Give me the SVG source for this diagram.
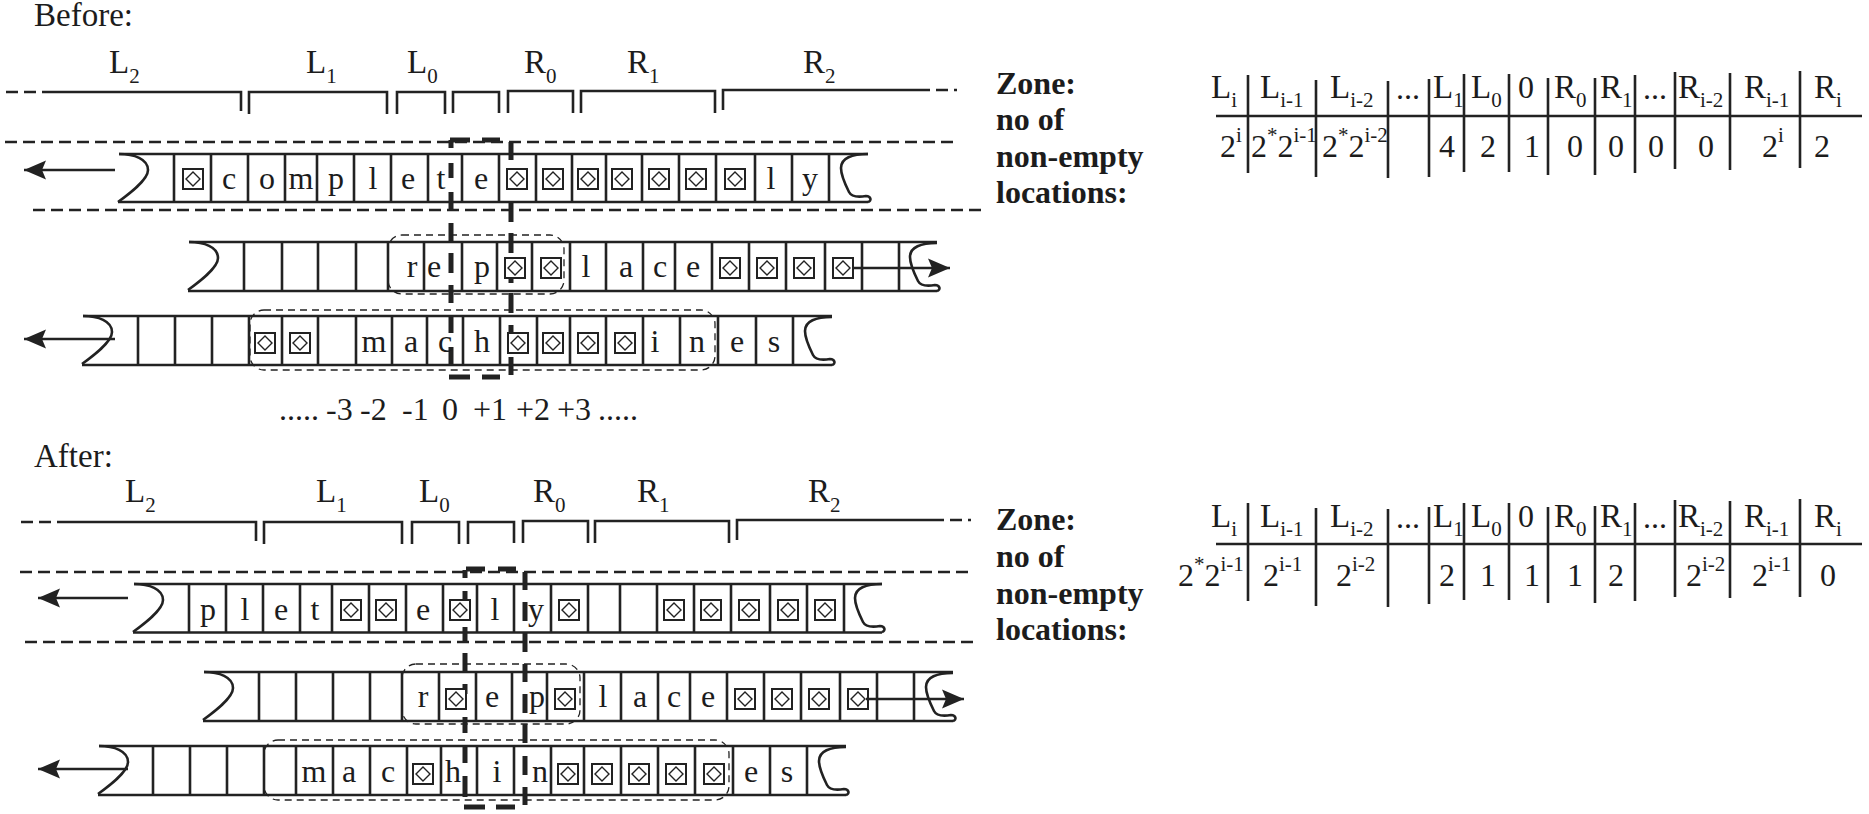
<svg xmlns="http://www.w3.org/2000/svg" width="1869" height="814" viewBox="0 0 1869 814">
<style>
text{font-family:"Liberation Serif","Times New Roman",serif;fill:#1c1c1c}
.t{font-size:33px}
.c{font-size:32px;text-anchor:middle}
.i{font-size:32px}
.n{font-size:32px}
.s{font-size:21px}
.z{font-size:32px;font-weight:bold}
.h{font-size:33px}
.l{fill:none;stroke:#222;stroke-width:2.6}
.d{fill:none;stroke:#222;stroke-width:2.6;stroke-dasharray:12 6}
.k{fill:none;stroke:#222;stroke-width:5}
.o{fill:none;stroke:#222;stroke-width:1.3;stroke-dasharray:7 5}
.a{fill:none;stroke:#222;stroke-width:2.4}
</style>
<defs>
<g id="b"><rect x="-10" y="-10" width="20" height="20" fill="#fff" stroke="#222" stroke-width="2"/><path d="M0 -7L7 0L0 7L-7 0Z" fill="none" stroke="#222" stroke-width="1.4"/></g>
<path id="lc" class="l" d="M0 0C15 0 29 5 29 16C29 26 10 40 -1 48"/>
<path id="rc" class="l" d="M0 0C-16 0 -27 4 -27 14C-27 22 -22 32 -19 38C-16 44 -8 43 -2 42C3 42 4 47 0 48"/>
<marker id="m" markerUnits="userSpaceOnUse" markerWidth="24" markerHeight="22" refX="22" refY="10" orient="auto"><path d="M22 10L0 0.500L4 10L0 19.500Z" fill="#222"/></marker>
</defs>

<g id="before-title"><text class="h" x="34" y="26">Before:</text></g>
<g id="after-title"><text class="h" x="34" y="467">After:</text></g>

<g id="before-labels">
<text class="t" x="109" y="73">L<tspan class="s" dy="10">2</tspan></text>
<text class="t" x="306" y="73">L<tspan class="s" dy="10">1</tspan></text>
<text class="t" x="407" y="73">L<tspan class="s" dy="10">0</tspan></text>
<text class="t" x="524" y="73">R<tspan class="s" dy="10">0</tspan></text>
<text class="t" x="627" y="73">R<tspan class="s" dy="10">1</tspan></text>
<text class="t" x="803" y="73">R<tspan class="s" dy="10">2</tspan></text>
</g>
<g id="after-labels">
<text class="t" x="125" y="502">L<tspan class="s" dy="10">2</tspan></text>
<text class="t" x="316" y="502">L<tspan class="s" dy="10">1</tspan></text>
<text class="t" x="419" y="502">L<tspan class="s" dy="10">0</tspan></text>
<text class="t" x="533" y="502">R<tspan class="s" dy="10">0</tspan></text>
<text class="t" x="637" y="502">R<tspan class="s" dy="10">1</tspan></text>
<text class="t" x="808" y="502">R<tspan class="s" dy="10">2</tspan></text>
</g>

<g id="guides-and-window-before">
<path class="k" d="M450 140H470M482 140H500M449 377H470M482 377H500M451 140V148M451 163V178M451 192V211M451 223V242M451 253V273M451 285V303M451 317V333M451 347V365M511 142V160M511 173V190M511 203V222M511 233V253M511 263V283M511 293V313M511 325V343M511 357V375"/>
</g>
<g id="guides-and-window-after">
<path class="k" d="M466 569H485M498 569H516M464 807H485M496 807H515M465 570V578M465 591V600M465 627V641M465 653V672M465 684V694M465 717V733M465 745V763M465 776V797M525 572V590M525 602V621M525 633V652M525 664V682M525 694V713M525 724V743M525 756V775M525 787V805"/>
</g>

<g id="before-tape-1">
<path class="l" d="M119 154H868M118 202H868M174 154V202M211 154V202M248 154V202M285 154V202M317 154V202M354 154V202M391 154V202M428 154V202M462 154V202M499 154V202M536 154V202M572 154V202M606 154V202M642 154V202M679 154V202M716 154V202M755 154V202M792 154V202M829 154V202"/>
<use href="#lc" x="119" y="154"/><use href="#rc" x="868" y="154"/>
<use href="#b" x="193" y="179"/>
<text class="c" x="229" y="189">c</text><text class="c" x="267" y="189">o</text><text class="c" x="301" y="189">m</text><text class="c" x="336" y="189">p</text><text class="c" x="373" y="189">l</text><text class="c" x="408" y="189">e</text><text class="c" x="441" y="189">t</text><text class="c" x="481" y="189">e</text>
<use href="#b" x="517" y="179"/><use href="#b" x="553" y="179"/><use href="#b" x="588" y="179"/><use href="#b" x="622" y="179"/><use href="#b" x="659" y="179"/><use href="#b" x="696" y="179"/><use href="#b" x="735" y="179"/>
<text class="c" x="771" y="189">l</text><text class="c" x="810" y="189">y</text>
</g>

<g id="before-tape-2">
<path class="l" d="M189 242H937M188 291H937M244 242V291M282 242V291M318 242V291M356 242V291M388 242V291M424 242V291M462 242V291M497 242V291M532 242V291M570 242V291M606 242V291M643 242V291M675 242V291M712 242V291M749 242V291M786 242V291M825 242V291M862 242V291M899 242V291"/>
<use href="#lc" x="189" y="242"/><use href="#rc" x="937" y="243"/>
<text class="c" x="412" y="277">r</text><text class="c" x="434" y="277">e</text><text class="c" x="482" y="277">p</text>
<use href="#b" x="515" y="268"/><use href="#b" x="551" y="268"/>
<text class="c" x="586" y="277">l</text><text class="c" x="626" y="277">a</text><text class="c" x="660" y="277">c</text><text class="c" x="693" y="277">e</text>
<use href="#b" x="730" y="268"/><use href="#b" x="767" y="268"/><use href="#b" x="804" y="268"/><use href="#b" x="843" y="268"/>
<rect class="o" x="388" y="235" width="176" height="59" rx="14"/>
</g>

<g id="before-tape-3">
<path class="l" d="M83 316H832M82 365H832M138 316V365M175 316V365M212 316V365M249 316V365M282 316V365M318 316V365M356 316V365M392 316V365M427 316V365M463 316V365M500 316V365M537 316V365M570 316V365M606 316V365M643 316V365M680 316V365M718 316V365M756 316V365M793 316V365"/>
<use href="#lc" x="83" y="316"/><use href="#rc" x="832" y="317"/>
<use href="#b" x="265" y="343"/><use href="#b" x="300" y="343"/>
<text class="c" x="374" y="352">m</text><text class="c" x="411" y="352">a</text><text class="c" x="445" y="352">c</text><text class="c" x="482" y="352">h</text>
<use href="#b" x="518" y="343"/><use href="#b" x="553" y="343"/><use href="#b" x="588" y="343"/><use href="#b" x="625" y="343"/>
<text class="c" x="655" y="352">i</text><text class="c" x="697" y="352">n</text><text class="c" x="737" y="352">e</text><text class="c" x="774" y="352">s</text>
<rect class="o" x="250" y="310" width="465" height="60" rx="14"/>
</g>

<g id="before-index">
<text class="i" x="279" y="420">.....</text>
<text class="i" x="326" y="420">-3</text><text class="i" x="360" y="420">-2</text><text class="i" x="402" y="420">-1</text><text class="i" x="442" y="420">0</text><text class="i" x="473" y="420">+1</text><text class="i" x="516" y="420">+2</text><text class="i" x="557" y="420">+3</text>
<text class="i" x="598" y="420">.....</text>
</g>

<g id="before-zone"><text class="z" x="996" y="94">Zone:</text><text class="z" x="996" y="130">no of</text><text class="z" x="996" y="167">non-empty</text><text class="z" x="996" y="203">locations:</text></g>
<g id="after-zone"><text class="z" x="996" y="530">Zone:</text><text class="z" x="996" y="567">no of</text><text class="z" x="996" y="604">non-empty</text><text class="z" x="996" y="640">locations:</text></g>

<g id="after-tape-1">
<path class="l" d="M134 584H882M133 632.500H882M189 584V632.500M226 584V632.500M263 584V632.500M300 584V632.500M332 584V632.500M369 584V632.500M406 584V632.500M443 584V632.500M477 584V632.500M514 584V632.500M551 584V632.500M588 584V632.500M620 584V632.500M657 584V632.500M694 584V632.500M731 584V632.500M770 584V632.500M807 584V632.500M844 584V632.500"/>
<use href="#lc" x="134" y="584"/><use href="#rc" x="882" y="584"/>
<text class="c" x="208" y="620">p</text><text class="c" x="245" y="620">l</text><text class="c" x="281" y="620">e</text><text class="c" x="315" y="620">t</text>
<use href="#b" x="351" y="610"/><use href="#b" x="386" y="610"/>
<text class="c" x="423" y="620">e</text>
<use href="#b" x="460" y="610"/>
<text class="c" x="495" y="620">l</text><text class="c" x="536" y="620">y</text>
<use href="#b" x="569" y="610"/><use href="#b" x="674" y="610"/><use href="#b" x="711" y="610"/><use href="#b" x="749" y="610"/><use href="#b" x="788" y="610"/><use href="#b" x="825" y="610"/>
</g>

<g id="after-tape-2">
<path class="l" d="M204 672H953M203 721H953M259 672V721M296 672V721M333 672V721M370 672V721M402 672V721M439 672V721M476 672V721M512 672V721M547 672V721M584 672V721M621 672V721M658 672V721M690 672V721M727 672V721M764 672V721M801 672V721M840 672V721M877 672V721M914 672V721"/>
<use href="#lc" x="204" y="672"/><use href="#rc" x="953" y="673"/>
<text class="c" x="423" y="707">r</text>
<use href="#b" x="456" y="699"/>
<text class="c" x="492" y="707">e</text><text class="c" x="537" y="707">p</text>
<use href="#b" x="565" y="699"/>
<text class="c" x="603" y="707">l</text><text class="c" x="640" y="707">a</text><text class="c" x="674" y="707">c</text><text class="c" x="708" y="707">e</text>
<use href="#b" x="745" y="699"/><use href="#b" x="782" y="699"/><use href="#b" x="819" y="699"/><use href="#b" x="858" y="699"/>
<rect class="o" x="402" y="664" width="178" height="60" rx="14"/>
</g>

<g id="after-tape-3">
<path class="l" d="M99 746H846M98 795H846M153 746V795M190 746V795M227 746V795M264 746V795M296 746V795M333 746V795M370 746V795M407 746V795M441 746V795M477 746V795M514 746V795M551 746V795M584 746V795M621 746V795M658 746V795M695 746V795M733 746V795M770 746V795M807 746V795"/>
<use href="#lc" x="99" y="746"/><use href="#rc" x="846" y="747"/>
<text class="c" x="314" y="782">m</text><text class="c" x="349" y="782">a</text><text class="c" x="388" y="782">c</text>
<use href="#b" x="423" y="774"/>
<text class="c" x="453" y="782">h</text><text class="c" x="497" y="782">i</text><text class="c" x="540" y="782">n</text>
<use href="#b" x="568" y="774"/><use href="#b" x="602" y="774"/><use href="#b" x="639" y="774"/><use href="#b" x="676" y="774"/><use href="#b" x="714" y="774"/>
<text class="c" x="751" y="782">e</text><text class="c" x="787" y="782">s</text>
<rect class="o" x="264" y="740" width="465" height="60" rx="14"/>
</g>

<g id="table-before">
<path class="l" d="M1216 116H1862M1248 75V173M1316 80V177M1388 81V178M1429 79V177M1464 74V172M1509 74V172M1548 78V175M1595 78V175M1635 75V173M1675 72V169M1730 73V170M1800 71V168"/>
<text class="t" x="1211" y="98">L<tspan class="s" dy="9">i</tspan></text>
<text class="t" x="1260" y="98">L<tspan class="s" dy="9">i-1</tspan></text>
<text class="t" x="1330" y="98">L<tspan class="s" dy="9">i-2</tspan></text>
<text class="n" x="1396" y="99">...</text>
<text class="t" x="1433" y="98">L<tspan class="s" dy="9">1</tspan></text>
<text class="t" x="1471" y="98">L<tspan class="s" dy="9">0</tspan></text>
<text class="n" x="1518" y="98">0</text>
<text class="t" x="1554" y="98">R<tspan class="s" dy="9">0</tspan></text>
<text class="t" x="1600" y="98">R<tspan class="s" dy="9">1</tspan></text>
<text class="n" x="1643" y="99">...</text>
<text class="t" x="1678" y="98">R<tspan class="s" dy="9">i-2</tspan></text>
<text class="t" x="1744" y="98">R<tspan class="s" dy="9">i-1</tspan></text>
<text class="t" x="1814" y="98">R<tspan class="s" dy="9">i</tspan></text>
<text class="n" x="1220" y="157">2<tspan class="s" dy="-15">i</tspan></text>
<text class="n" x="1251" y="157">2<tspan class="s" dy="-15">*</tspan><tspan dy="15">2</tspan><tspan class="s" dy="-15">i-1</tspan></text>
<text class="n" x="1322" y="157">2<tspan class="s" dy="-15">*</tspan><tspan dy="15">2</tspan><tspan class="s" dy="-15">i-2</tspan></text>
<text class="n" x="1439" y="157">4</text><text class="n" x="1480" y="157">2</text><text class="n" x="1524" y="157">1</text><text class="n" x="1567" y="157">0</text><text class="n" x="1608" y="157">0</text><text class="n" x="1648" y="157">0</text><text class="n" x="1698" y="157">0</text>
<text class="n" x="1762" y="157">2<tspan class="s" dy="-15">i</tspan></text>
<text class="n" x="1814" y="157">2</text>
</g>

<g id="table-after">
<path class="l" d="M1216 544H1862M1248 503V601M1316 508V606M1388 509V607M1429 507V604M1464 503V600M1509 503V600M1548 507V603M1595 506V603M1635 503V601M1675 500V597M1730 501V598M1800 499V597"/>
<text class="t" x="1211" y="527">L<tspan class="s" dy="9">i</tspan></text>
<text class="t" x="1260" y="527">L<tspan class="s" dy="9">i-1</tspan></text>
<text class="t" x="1330" y="527">L<tspan class="s" dy="9">i-2</tspan></text>
<text class="n" x="1396" y="528">...</text>
<text class="t" x="1433" y="527">L<tspan class="s" dy="9">1</tspan></text>
<text class="t" x="1471" y="527">L<tspan class="s" dy="9">0</tspan></text>
<text class="n" x="1518" y="527">0</text>
<text class="t" x="1554" y="527">R<tspan class="s" dy="9">0</tspan></text>
<text class="t" x="1600" y="527">R<tspan class="s" dy="9">1</tspan></text>
<text class="n" x="1643" y="528">...</text>
<text class="t" x="1678" y="527">R<tspan class="s" dy="9">i-2</tspan></text>
<text class="t" x="1744" y="527">R<tspan class="s" dy="9">i-1</tspan></text>
<text class="t" x="1814" y="527">R<tspan class="s" dy="9">i</tspan></text>
<text class="n" x="1178" y="586">2<tspan class="s" dy="-15">*</tspan><tspan dy="15">2</tspan><tspan class="s" dy="-15">i-1</tspan></text>
<text class="n" x="1263" y="586">2<tspan class="s" dy="-15">i-1</tspan></text>
<text class="n" x="1336" y="586">2<tspan class="s" dy="-15">i-2</tspan></text>
<text class="n" x="1439" y="586">2</text><text class="n" x="1480" y="586">1</text><text class="n" x="1524" y="586">1</text><text class="n" x="1567" y="586">1</text><text class="n" x="1608" y="586">2</text>
<text class="n" x="1686" y="586">2<tspan class="s" dy="-15">i-2</tspan></text>
<text class="n" x="1752" y="586">2<tspan class="s" dy="-15">i-1</tspan></text>
<text class="n" x="1820" y="586">0</text>
</g>

<g id="connectors">
<path class="a" marker-end="url(#m)" d="M115 170H24"/>
<path class="a" marker-end="url(#m)" d="M115 339H24"/>
<path class="a" marker-end="url(#m)" d="M853 268H950"/>
<path class="a" marker-end="url(#m)" d="M128 598H38"/>
<path class="a" marker-end="url(#m)" d="M128 769H38"/>
<path class="a" marker-end="url(#m)" d="M866 699H964"/>
<path class="d" d="M6 92H44"/><path class="l" d="M44 92H241V111M249 114V92H387V114M397 114V92H445V114M453 113V92H499V113M508 113V91H573V113M581 113V91H715V113M723 110V90H918"/><path class="d" d="M918 90H957"/>
<path class="d" d="M21 522H60"/><path class="l" d="M60 522H256V541M264 544V522H402V544M412 544V522H459V544M468 544V522H514V543M523 543V521H588V543M595 543V521H729V543M737 540V520H932"/><path class="d" d="M932 520H971"/>
<path class="d" d="M5 142H954M33 210H982"/>
<path class="d" d="M20 572H968M25 642H973"/>
</g>
</svg>
